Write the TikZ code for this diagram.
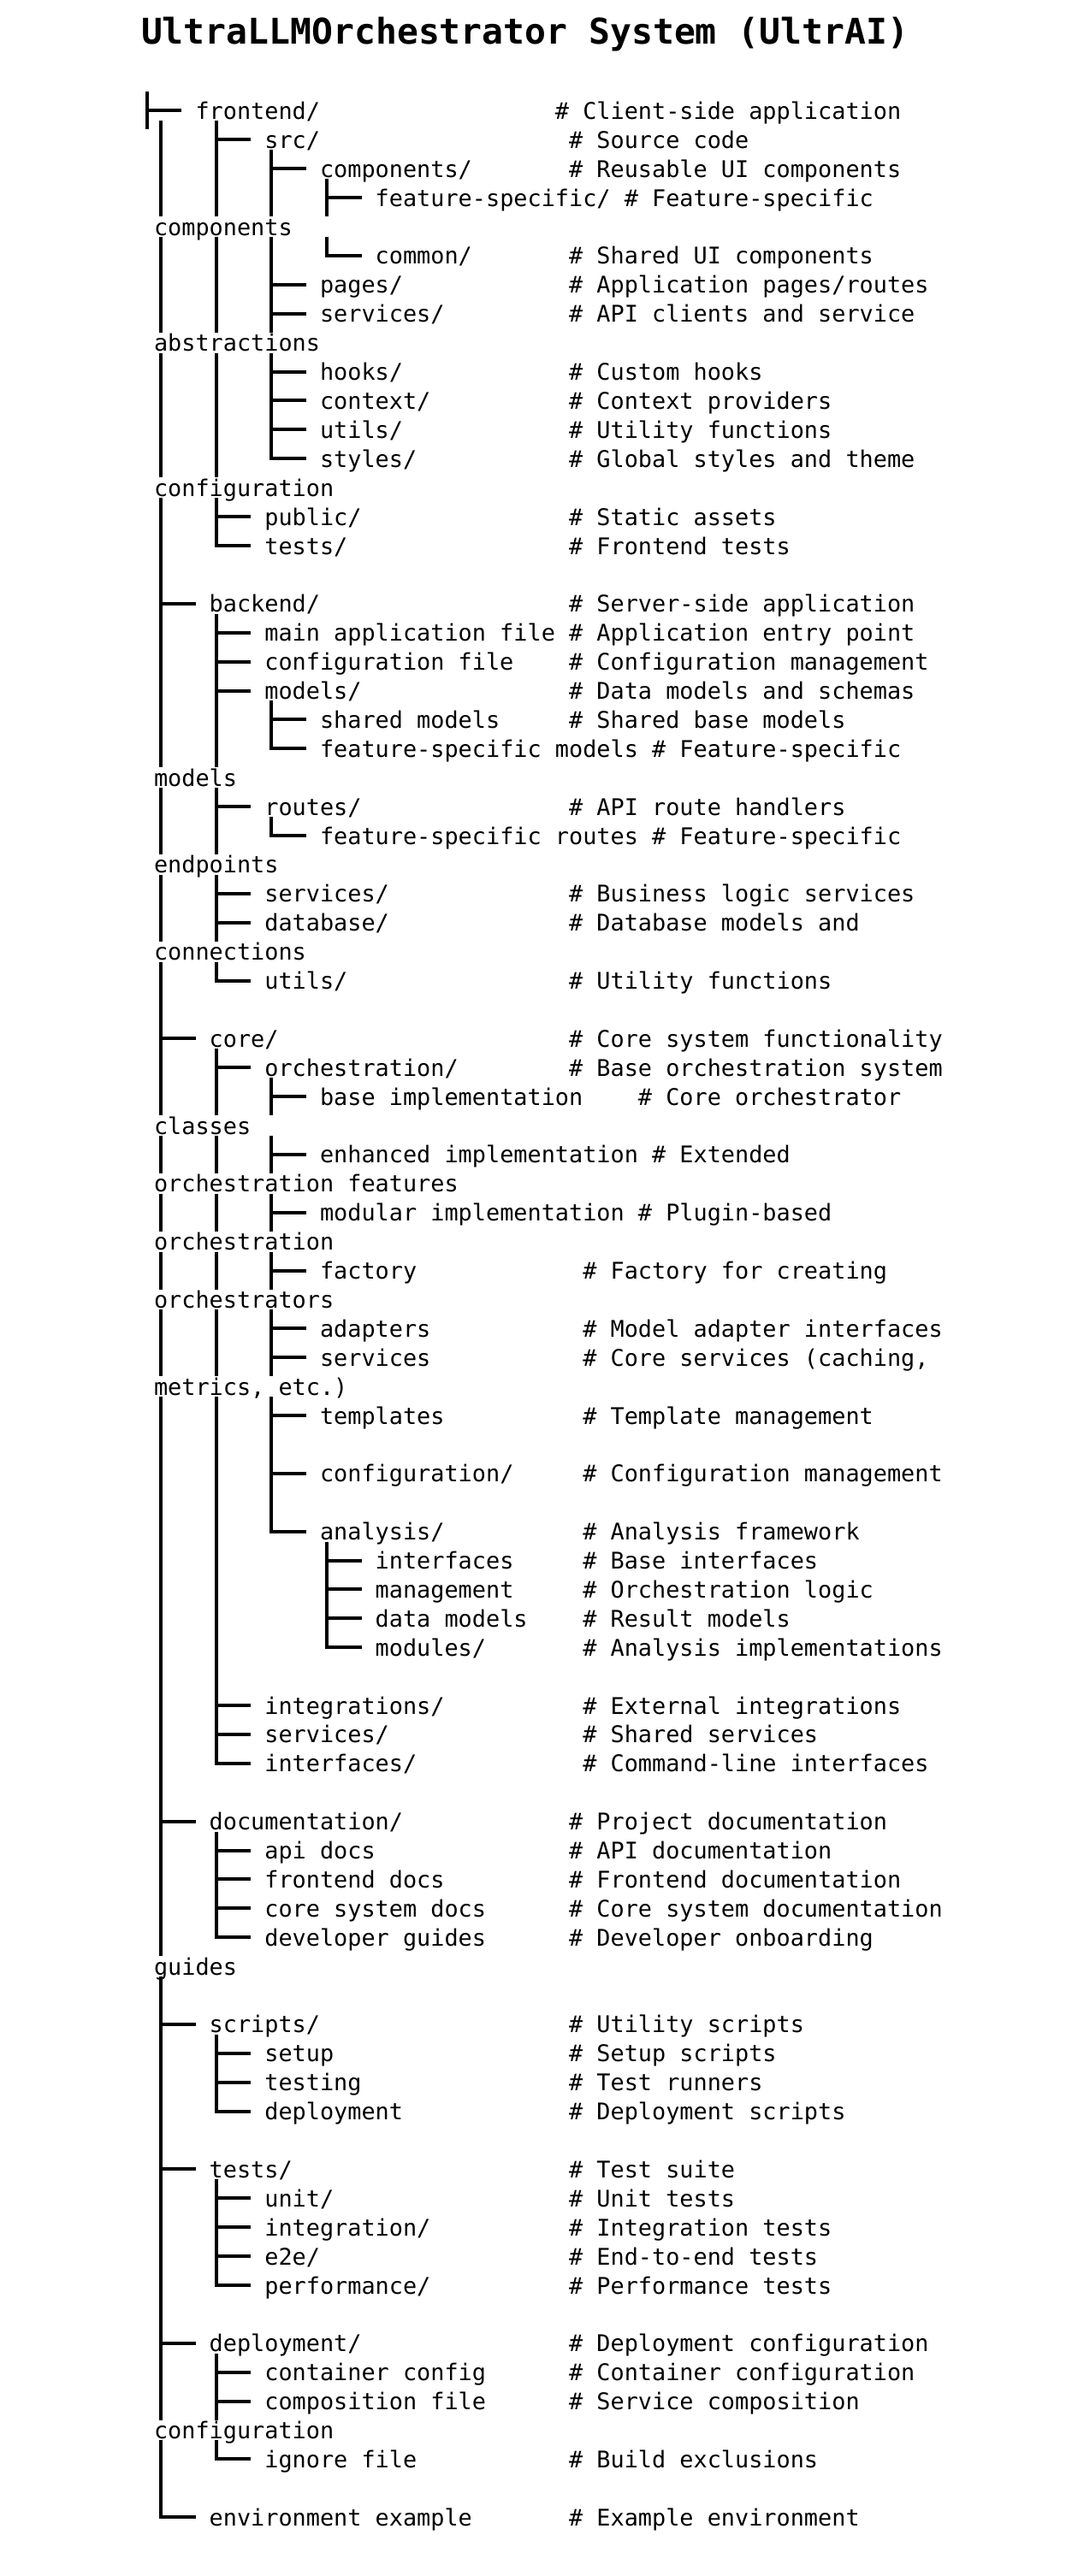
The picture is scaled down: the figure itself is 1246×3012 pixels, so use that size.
\documentclass[tikz,border=0pt]{standalone}
\usepackage{fontspec}
\newfontfamily\monofam{DejaVu Sans Mono}
\tikzset{
  txt/.style={anchor=base west, inner sep=0pt, outer sep=0pt, text=black,
    font=\monofam\fontsize{13.43pt}{16pt}\selectfont},
  ttl/.style={anchor=base west, inner sep=0pt, outer sep=0pt, text=black,
    font=\monofam\bfseries\fontsize{20.7pt}{24pt}\selectfont},
  tree/.style={line width=2pt, line cap=butt, line join=miter, draw=black},
}
% #1 line, #2 text column, #3 text, #4 comment column, #5 comment
\newcommand\trow[5]{%
  \node[txt] (t#1) at ({180+16.17*(#2)},{139.5+33.9*(#1-1)}) {#3};
  \node[txt] (k#1) at ({180+16.17*(#4)},{139.5+33.9*(#1-1)}) {\#~#5};}
\newcommand\wrapln[2]{%
  \node[txt] (w#1) at (180,{139.5+33.9*(#1-1)}) {#2};}
\begin{document}
\begin{tikzpicture}[x=0.5pt,y=-0.5pt]
\fill[white] (0,0) rectangle (1246,3012);
\useasboundingbox (0,0) rectangle (1246,3012);

\node[ttl] (title) at (165,52) {UltraLLMOrchestrator System (UltrAI)};

\trow{1}{3}{frontend/}{29}{Client-side application}
\trow{2}{8}{src/}{30}{Source code}
\trow{3}{12}{components/}{30}{Reusable UI components}
\trow{4}{16}{feature-specific/}{34}{Feature-specific}
\wrapln{5}{components}
\trow{6}{16}{common/}{30}{Shared UI components}
\trow{7}{12}{pages/}{30}{Application pages/routes}
\trow{8}{12}{services/}{30}{API clients and service}
\wrapln{9}{abstractions}
\trow{10}{12}{hooks/}{30}{Custom hooks}
\trow{11}{12}{context/}{30}{Context providers}
\trow{12}{12}{utils/}{30}{Utility functions}
\trow{13}{12}{styles/}{30}{Global styles and theme}
\wrapln{14}{configuration}
\trow{15}{8}{public/}{30}{Static assets}
\trow{16}{8}{tests/}{30}{Frontend tests}
\trow{18}{4}{backend/}{30}{Server-side application}
\trow{19}{8}{main application file}{30}{Application entry point}
\trow{20}{8}{configuration file}{30}{Configuration management}
\trow{21}{8}{models/}{30}{Data models and schemas}
\trow{22}{12}{shared models}{30}{Shared base models}
\trow{23}{12}{feature-specific models}{36}{Feature-specific}
\wrapln{24}{models}
\trow{25}{8}{routes/}{30}{API route handlers}
\trow{26}{12}{feature-specific routes}{36}{Feature-specific}
\wrapln{27}{endpoints}
\trow{28}{8}{services/}{30}{Business logic services}
\trow{29}{8}{database/}{30}{Database models and}
\wrapln{30}{connections}
\trow{31}{8}{utils/}{30}{Utility functions}
\trow{33}{4}{core/}{30}{Core system functionality}
\trow{34}{8}{orchestration/}{30}{Base orchestration system}
\trow{35}{12}{base implementation}{35}{Core orchestrator}
\wrapln{36}{classes}
\trow{37}{12}{enhanced implementation}{36}{Extended}
\wrapln{38}{orchestration features}
\trow{39}{12}{modular implementation}{35}{Plugin-based}
\wrapln{40}{orchestration}
\trow{41}{12}{factory}{31}{Factory for creating}
\wrapln{42}{orchestrators}
\trow{43}{12}{adapters}{31}{Model adapter interfaces}
\trow{44}{12}{services}{31}{Core services (caching,}
\wrapln{45}{metrics, etc.)}
\trow{46}{12}{templates}{31}{Template management}
\trow{48}{12}{configuration/}{31}{Configuration management}
\trow{50}{12}{analysis/}{31}{Analysis framework}
\trow{51}{16}{interfaces}{31}{Base interfaces}
\trow{52}{16}{management}{31}{Orchestration logic}
\trow{53}{16}{data models}{31}{Result models}
\trow{54}{16}{modules/}{31}{Analysis implementations}
\trow{56}{8}{integrations/}{31}{External integrations}
\trow{57}{8}{services/}{31}{Shared services}
\trow{58}{8}{interfaces/}{31}{Command-line interfaces}
\trow{60}{4}{documentation/}{30}{Project documentation}
\trow{61}{8}{api docs}{30}{API documentation}
\trow{62}{8}{frontend docs}{30}{Frontend documentation}
\trow{63}{8}{core system docs}{30}{Core system documentation}
\trow{64}{8}{developer guides}{30}{Developer onboarding}
\wrapln{65}{guides}
\trow{67}{4}{scripts/}{30}{Utility scripts}
\trow{68}{8}{setup}{30}{Setup scripts}
\trow{69}{8}{testing}{30}{Test runners}
\trow{70}{8}{deployment}{30}{Deployment scripts}
\trow{72}{4}{tests/}{30}{Test suite}
\trow{73}{8}{unit/}{30}{Unit tests}
\trow{74}{8}{integration/}{30}{Integration tests}
\trow{75}{8}{e2e/}{30}{End-to-end tests}
\trow{76}{8}{performance/}{30}{Performance tests}
\trow{78}{4}{deployment/}{30}{Deployment configuration}
\trow{79}{8}{container config}{30}{Container configuration}
\trow{80}{8}{composition file}{30}{Service composition}
\wrapln{81}{configuration}
\trow{82}{8}{ignore file}{30}{Build exclusions}
\trow{84}{4}{environment example}{30}{Example environment}

% tee branches (line/column)
\foreach \n/\c in {1/-1,2/4,3/8,4/12,7/8,8/8,10/8,11/8,12/8,15/4,18/0,19/4,20/4,21/4,22/8,25/4,28/4,29/4,33/0,34/4,35/8,37/8,39/8,41/8,43/8,44/8,46/8,48/8,51/12,52/12,53/12,56/4,57/4,60/0,61/4,62/4,63/4,67/0,68/4,69/4,72/0,73/4,74/4,75/4,78/0,79/4,80/4}{
  \draw[tree] ({188+16.17*\c},{139.5+33.9*(\n-1)-32}) -- ++(0,44);
  \draw[tree] ({188+16.17*\c},{139.5+33.9*(\n-1)-10}) -- ([xshift=-8.09pt,yshift=5pt]t\n.base west);
}
% last branches
\foreach \n/\c in {6/12,13/8,16/4,23/8,26/8,31/4,50/8,54/12,58/4,64/4,70/4,76/4,82/4,84/0}{
  \draw[tree] ({188+16.17*\c},{139.5+33.9*(\n-1)-32}) |- ([xshift=-8.09pt,yshift=5pt]t\n.base west);
}
% pipes, column 0
\foreach \n in {2,3,4,6,7,8,10,11,12,13,15,16,17,19,20,21,22,23,25,26,28,29,31,32,34,35,37,39,41,43,44,46,47,48,49,50,51,52,53,54,55,56,57,58,59,61,62,63,64,66,68,69,70,71,73,74,75,76,77,79,80,82,83}{
  \draw[tree] (188,{139.5+33.9*(\n-1)-32}) -- ++(0,44);
}
% pipes, column 4
\foreach \n in {3,4,6,7,8,10,11,12,13,22,23,26,35,37,39,41,43,44,46,47,48,49,50,51,52,53,54,55}{
  \draw[tree] ({188+16.17*4},{139.5+33.9*(\n-1)-32}) -- ++(0,44);
}
% pipes, column 8
\foreach \n in {4,6,47,49}{
  \draw[tree] ({188+16.17*8},{139.5+33.9*(\n-1)-32}) -- ++(0,44);
}
\end{tikzpicture}
\end{document}
